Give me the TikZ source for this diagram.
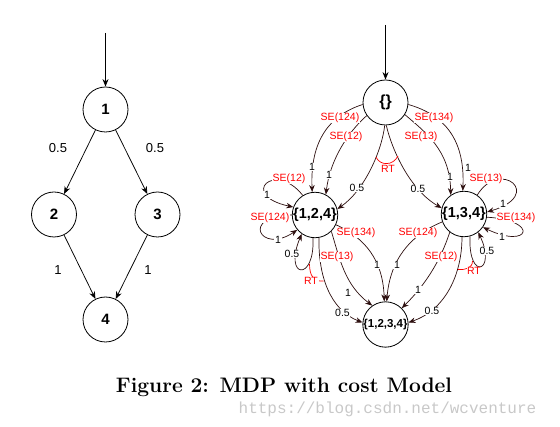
\documentclass[tikz,border=0pt]{standalone}
\usepackage{fontspec}
\setsansfont{Liberation Sans}
\setmonofont{Liberation Mono}
\usetikzlibrary{arrows.meta}
\definecolor{edgecol}{RGB}{45,15,15}
\definecolor{wm}{RGB}{200,200,200}
\begin{document}
\begin{tikzpicture}[x=1pt,y=-1pt,
  st/.style={circle,draw,line width=0.8pt,minimum size=45pt,inner sep=0pt,font=\sffamily\bfseries\fontsize{15}{15}\selectfont},
  arr/.style={-{Stealth[length=7.5pt,width=6pt]},line width=0.75pt},
  rarr/.style={-{Stealth[length=7pt,width=5.5pt]},line width=0.7pt,draw=edgecol},
  lab/.style={font=\sffamily\fontsize{13}{13}\selectfont,inner sep=1pt},
  plab/.style={font=\sffamily\fontsize{10.5}{10.5}\selectfont,fill=white,inner sep=0.6pt},
  act/.style={plab,text=red},
  rtmark/.style={draw=red,line width=0.7pt}]
\useasboundingbox (0,0) rectangle (560,427);

% ---------- left MDP ----------
\node[st] (n1) at (105.5,109.5) {1};
\node[st] (n2) at (54,214.5) {2};
\node[st] (n3) at (157.5,214.5) {3};
\node[st] (n4) at (105.5,319.5) {4};
\coordinate (s1) at (105.5,33);
\draw[arr] (s1) -- (n1);
\draw[arr] (n1) -- (n2);
\draw[arr] (n1) -- (n3);
\draw[arr] (n2) -- (n4);
\draw[arr] (n3) -- (n4);
\node[lab] (l12) at (58,148) {0.5};
\node[lab] (l13) at (155,148) {0.5};
\node[lab] (l24) at (58,270) {1};
\node[lab] (l34) at (148,270) {1};

% ---------- right MDP ----------
\node[st,font=\sffamily\bfseries\fontsize{16}{16}\selectfont] (E) at (385.5,102.5) {\{\}};
\node[st,font=\sffamily\bfseries\fontsize{14.5}{14.5}\selectfont] (A) at (315,215) {\{1,2,4\}};
\node[st,font=\sffamily\bfseries\fontsize{14.5}{14.5}\selectfont] (B) at (464,214) {\{1,3,4\}};
\node[st,font=\sffamily\bfseries\fontsize{11.5}{11.5}\selectfont] (C) at (385.5,324.5) {\{1,2,3,4\}};
\coordinate (s2) at (385.5,25);
\draw[arr] (s2) -- (E);

% from {}
\draw[rarr] (E.185) .. controls (330,115) and (310,140) .. (A.97);
\draw[rarr] (E.215) .. controls (348,132) and (330,160) .. (A.62);
\draw[rarr] (E.268) .. controls (382,150) and (365,190) .. (A.15);
\draw[rarr] (E.272) .. controls (392,150) and (410,190) .. (B.165);
\draw[rarr] (E.328) .. controls (425,132) and (450,150) .. (B.125);
\draw[rarr] (E.355) .. controls (445,115) and (465,140) .. (B.93);
\draw[rtmark] (376,157) .. controls (380,166) and (393,166) .. (398,156);

% {1,2,4}
\draw[rarr] (A.122) .. controls (275,160) and (238,195) .. (A.160);
\draw[rarr] (A.180) .. controls (240,215) and (260,255) .. (A.220);
\draw[rarr] (A.265) .. controls (315,283) and (283,278) .. (A.235);
\draw[rarr] (A.280) .. controls (318,275) and (330,310) .. (C.175);
\draw[rarr] (A.315) .. controls (340,260) and (345,285) .. (C.125);
\draw[rarr] (A.335) .. controls (365,238) and (383,260) .. (C.93);
\draw[rtmark] (309.5,264) .. controls (309.5,276) and (314,282) .. (323.5,281);

% {1,3,4}
\draw[rarr] (B.55) .. controls (500,158) and (545,195) .. (B.5);
\draw[rarr] (B.-8) .. controls (540,220) and (530,250) .. (B.-35);
\draw[rarr] (B.-75) .. controls (468,282) and (497,272) .. (B.-52);
\draw[rarr] (B.-95) .. controls (462,275) and (445,310) .. (C.5);
\draw[rarr] (B.-128) .. controls (440,262) and (425,285) .. (C.45);
\draw[rarr] (B.200) .. controls (410,235) and (390,260) .. (C.87);
\draw[rtmark] (472.5,261) .. controls (472.5,268) and (466,270) .. (458,269.5);

% probability labels
\node[plab] (p1) at (312,167) {1};
\node[plab] (p2) at (329,175) {1};
\node[plab] (p3) at (450,177) {1};
\node[plab] (p4) at (468,168) {1};
\node[plab] (p5) at (357,188) {0.5};
\node[plab] (p6) at (418,189) {0.5};
\node[plab] (p7) at (267,195) {1};
\node[plab] (p8) at (278,240) {1};
\node[plab] (p9) at (292,254) {0.5};
\node[plab] (p10) at (342.5,313) {0.5};
\node[plab] (p11) at (348,293) {1};
\node[plab] (p12) at (377,265) {1};
\node[plab] (p13) at (503,204) {1};
\node[plab] (p14) at (502,237) {1};
\node[plab] (p15) at (487,251) {0.5};
\node[plab] (p16) at (432,311) {0.5};
\node[plab] (p17) at (418,290) {1};
\node[plab] (p18) at (397,265) {1};

% action labels
\node[act] (a1) at (340,118) {SE(124)};
\node[act] (a2) at (346,137) {SE(12)};
\node[act] (a3) at (421,137) {SE(13)};
\node[act] (a4) at (434,118) {SE(134)};
\node[act] (a5) at (388,169) {RT};
\node[act] (a6) at (289,179) {SE(12)};
\node[act] (a7) at (270,218) {SE(124)};
\node[act] (a8) at (337,257) {SE(13)};
\node[act] (a9) at (356,233) {SE(134)};
\node[act] (a10) at (311,281) {RT};
\node[act] (a11) at (486,179) {SE(13)};
\node[act] (a12) at (516,218) {SE(134)};
\node[act] (a13) at (441,257) {SE(12)};
\node[act] (a14) at (418,233) {SE(124)};
\node[act] (a15) at (474,271) {RT};

% caption
\node[font=\bfseries\fontsize{21}{21}\selectfont] (cap) at (284,387) {Figure 2: MDP with cost Model};
\node[font=\ttfamily\fontsize{16}{16}\selectfont,text=wm] (wmk) at (387.5,409) {https://blog.csdn.net/wcventure};
\end{tikzpicture}
\end{document}
